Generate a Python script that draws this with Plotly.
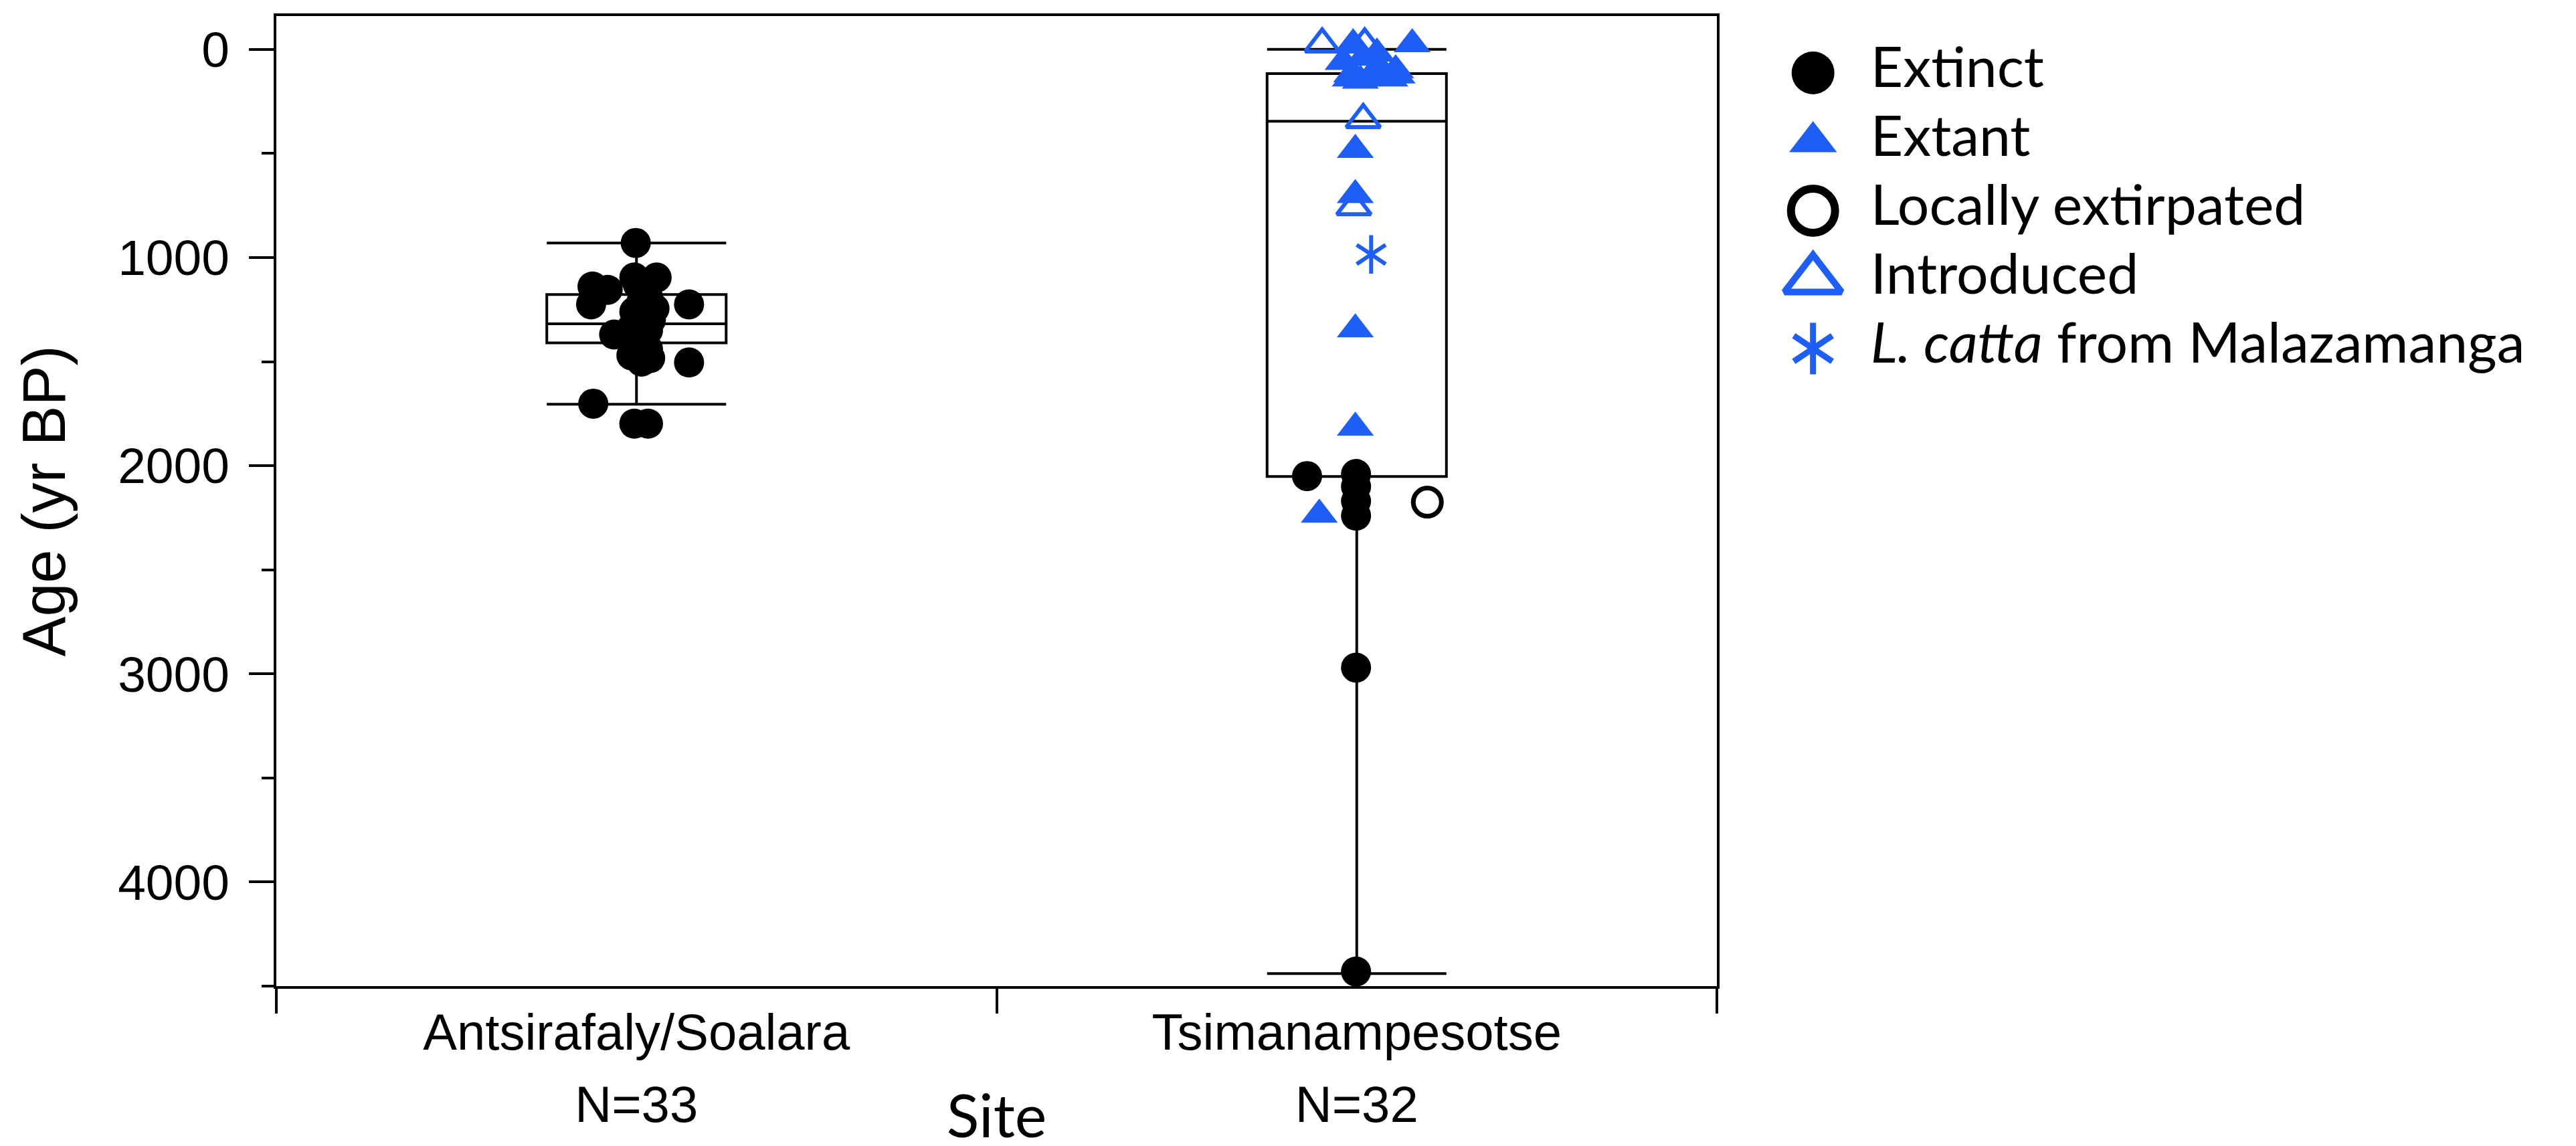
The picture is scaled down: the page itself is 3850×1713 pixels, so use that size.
import plotly.graph_objects as go

W, H = 3850, 1713
BLUE = "#1f5ef5"
AXFONT = "Liberation Sans, Arial, sans-serif"
LEGFONT = "Lato, Open Sans, sans-serif"

# ---------------- data ----------------
sites = ["Antsirafaly/Soalara", "Tsimanampesotse"]
site_n = ["N=33", "N=32"]
site_pos = [0, 1]

# box-plot statistics (yr BP)
box_q1 = [1178, 116]
box_median = [1318, 345]
box_q3 = [1410, 2052]
box_lowerfence = [930, 0]
box_upperfence = [1705, 4440]

# Antsirafaly/Soalara – all extinct
ant_age = [930, 1139, 1155, 1225, 1096, 1096, 1245, 1370, 1461, 1483, 1225,
           1504, 1702, 1798, 1798, 1130, 1160, 1190, 1210, 1260, 1280, 1300,
           1315, 1320, 1340, 1350, 1380, 1400, 1410, 1430, 1440, 1470, 1500]
ant_jitter = [-0.001, -0.061, -0.040, -0.063, -0.003, 0.028, 0.025, -0.031,
              0.004, 0.019, 0.073, 0.073, -0.060, -0.003, 0.016, 0.002, 0.011,
              0.016, 0.007, -0.003, 0.011, 0.020, 0.002, 0.007, -0.007, 0.016,
              0.007, -0.003, 0.011, 0.002, 0.016, -0.007, 0.007]

# Tsimanampesotse
tsi_extinct_age = [2050, 2040, 2100, 2170, 2240, 2970, 4430]
tsi_extinct_jitter = [-0.069, -0.001, -0.001, -0.001, -0.001, -0.001, -0.001]

tsi_extant_age = [60, 40, 130, 140, 140, 20, 150, -25, -25, 120, 130, 125,
                  95, 100, 483, 700, 1345, 1817, 2235]
tsi_extant_jitter = [-0.019, 0.009, 0.019, 0.046, -0.009, 0.028, 0.005,
                     -0.005, 0.077, -0.007, 0.025, 0.056, 0.033, 0.054,
                     -0.002, -0.002, -0.002, -0.002, -0.052]

tsi_extirpated_age = [2175]
tsi_extirpated_jitter = [0.098]

tsi_introduced_age = [-25, -25, 338, 757]
tsi_introduced_jitter = [-0.048, 0.011, 0.009, -0.004]

tsi_lcatta_age = [985]
tsi_lcatta_jitter = [0.020]

legend_labels = ["Extinct", "Extant", "Locally extirpated", "Introduced",
                 "<i>L. catta</i> from Malazamanga"]

# ---------------- figure ----------------
fig = go.Figure()

fig.add_trace(go.Box(
    x=site_pos, q1=box_q1, median=box_median, q3=box_q3,
    lowerfence=box_lowerfence, upperfence=box_upperfence,
    width=0.249, whiskerwidth=1, boxpoints=False,
    line=dict(color="black", width=4), fillcolor="rgba(0,0,0,0)",
    showlegend=False, hoverinfo="skip"))

def xs(site, jit):
    return [site_pos[site] + j for j in jit]

circle = dict(symbol="circle", size=45, color="black", opacity=1,
              line=dict(width=0))
tri = dict(symbol="triangle-up", size=48, color=BLUE, opacity=1,
           line=dict(width=0))
tri_open = dict(symbol="triangle-up-open", size=44, color=BLUE, opacity=1,
                line=dict(width=6, color=BLUE))
circ_open = dict(symbol="circle-open", size=42, color="black", opacity=1,
                 line=dict(width=7, color="black"))

fig.add_trace(go.Scatter(x=xs(0, ant_jitter), y=ant_age, mode="markers",
                         marker=circle, showlegend=False))
fig.add_trace(go.Scatter(x=xs(1, tsi_extinct_jitter), y=tsi_extinct_age,
                         mode="markers", marker=circle, showlegend=False))
fig.add_trace(go.Scatter(x=xs(1, tsi_extirpated_jitter), y=tsi_extirpated_age,
                         mode="markers", marker=circ_open, showlegend=False))
fig.add_trace(go.Scatter(x=xs(1, tsi_extant_jitter), y=tsi_extant_age,
                         mode="markers", marker=tri, showlegend=False))
fig.add_trace(go.Scatter(x=xs(1, tsi_introduced_jitter), y=tsi_introduced_age,
                         mode="markers", marker=tri_open, showlegend=False))
for sym in ["y-up-open", "y-down-open"]:
    fig.add_trace(go.Scatter(
        x=xs(1, tsi_lcatta_jitter), y=tsi_lcatta_age, mode="markers",
        marker=dict(symbol=sym, size=36, color=BLUE, opacity=1,
                    line=dict(width=6, color=BLUE)), showlegend=False))

# dummy traces to activate the overlay axes used for category labels
fig.add_trace(go.Scatter(x=site_pos, y=[None, None], xaxis="x3", yaxis="y",
                         mode="markers", showlegend=False, hoverinfo="skip"))
fig.add_trace(go.Scatter(x=site_pos, y=[None, None], xaxis="x4", yaxis="y",
                         mode="markers", showlegend=False, hoverinfo="skip"))

# ---------------- custom legend ----------------
leg_symbols = [["circle"], ["triangle-up"], ["circle-open"],
               ["triangle-up-open"], ["y-up-open", "y-down-open"]]
leg_colors = ["black", BLUE, "black", BLUE, BLUE]
leg_sizes = [64, 62, 66, 74, 48]
leg_lw = [0, 0, 12, 10, 9]
mx, my, msym, mcol, msz, mlw = [], [], [], [], [], []
for i, syms in enumerate(leg_symbols):
    for s in syms:
        mx.append(0)
        my.append(i)
        msym.append(s)
        mcol.append(leg_colors[i])
        msz.append(leg_sizes[i])
        mlw.append(leg_lw[i])
fig.add_trace(go.Scatter(
    x=mx, y=my, mode="markers", xaxis="x2", yaxis="y2",
    marker=dict(symbol=msym, color=mcol, size=msz, opacity=1,
                line=dict(width=mlw, color=mcol)),
    showlegend=False, hoverinfo="skip"))
fig.add_trace(go.Scatter(
    x=[0.075] * len(legend_labels), y=list(range(len(legend_labels))),
    mode="text", text=legend_labels, textposition="middle right",
    textfont=dict(family=LEGFONT, size=84, color="black"),
    xaxis="x2", yaxis="y2", showlegend=False, hoverinfo="skip"))

main_dom = [0, 2153 / 3445]
fig.update_layout(
    width=W, height=H,
    margin=dict(l=405, r=0, t=16, b=247, autoexpand=False),
    paper_bgcolor="white", plot_bgcolor="white",
    showlegend=False,
    xaxis=dict(domain=main_dom, range=[-0.5, 1.5], tickvals=[-0.5, 0.5, 1.5],
               ticktext=["", "", ""], ticks="outside", ticklen=37,
               tickwidth=4, tickcolor="black", showline=True, linewidth=4,
               linecolor="black", mirror=True, showgrid=False, zeroline=False,
               title=dict(text="Site", standoff=122,
                          font=dict(family=LEGFONT, size=90, color="black"))),
    xaxis3=dict(domain=main_dom, range=[-0.5, 1.5], overlaying="x",
                anchor="y", side="bottom", tickvals=site_pos, ticktext=sites,
                ticks="", showline=False, showgrid=False, zeroline=False,
                ticklabelstandoff=18,
                tickfont=dict(family=AXFONT, size=76, color="black")),
    xaxis4=dict(domain=main_dom, range=[-0.5, 1.5], overlaying="x",
                anchor="y", side="bottom", tickvals=site_pos, ticktext=site_n,
                ticks="", showline=False, showgrid=False, zeroline=False,
                ticklabelstandoff=126,
                tickfont=dict(family=AXFONT, size=76, color="black")),
    yaxis=dict(domain=[0, 1], range=[4500, -160],
               tickvals=[0, 1000, 2000, 3000, 4000], ticks="outside",
               ticklen=37, tickwidth=4, tickcolor="black", showline=True,
               linewidth=4, linecolor="black", mirror=True, showgrid=False,
               zeroline=False, ticklabelstandoff=14,
               minor=dict(dtick=500, tick0=0, ticks="outside", ticklen=18,
                          tickwidth=4, tickcolor="black", showgrid=False),
               tickfont=dict(family=AXFONT, size=75, color="black"),
               title=dict(text="Age (yr BP)", standoff=50,
                          font=dict(family=AXFONT, size=90, color="black"))),
    xaxis2=dict(domain=[0.64, 1.0], range=[-0.08, 1], visible=False,
                anchor="y2", fixedrange=True),
    yaxis2=dict(domain=[0.6, 1.0], range=[4.806, -0.825], visible=False,
                anchor="x2", fixedrange=True),
)

fig.write_html("out.html")
